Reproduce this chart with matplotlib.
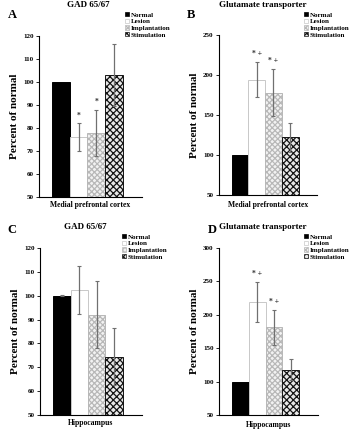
import matplotlib
matplotlib.use("Agg")
import matplotlib.pyplot as plt
from matplotlib.patches import Patch
import numpy as np

plt.rcParams['font.family'] = ['Liberation Serif', 'DejaVu Serif']
plt.rcParams['font.weight'] = 'bold'
plt.rcParams['hatch.linewidth'] = 0.9

groups = ['Normal', 'Lesion', 'Implantation', 'Stimulation']

gad_mpfc = [100, 76, 78, 103]
gad_mpfc_err = [0, 6, 10, 13.5]
gad_mpfc_sig = ['', '*', '*', '']

glu_mpfc = [100, 194, 178, 122]
glu_mpfc_err = [0, 22, 29, 18]
glu_mpfc_sig = ['', '* +', '* +', '']

gad_hip = [100, 102.5, 92, 74.5]
gad_hip_err = [0.3, 10, 14, 12]
gad_hip_sig = ['', '', '', '']

glu_hip = [100, 219, 181, 118]
glu_hip_err = [0, 30, 26, 16]
glu_hip_sig = ['', '* +', '* +', '']

styles = [
    dict(facecolor='black', edgecolor='black', hatch=None),
    dict(facecolor='white', edgecolor='#c8c8c8', hatch=None),
    dict(facecolor='#f2f2f2', edgecolor='#b8b8b8', hatch='xxxxxx'),
    dict(facecolor='#e8e8e8', edgecolor='#151515', hatch='xxxxx'),
]

W, H = 352, 430
fig = plt.figure(figsize=(W / 100, H / 100), dpi=100)


def rect(l, t, r, b):
    return [l / W, 1 - b / H, (r - l) / W, (b - t) / H]


panels = [
    dict(pos=rect(39, 36, 142, 197), vals=gad_mpfc, err=gad_mpfc_err, sig=gad_mpfc_sig,
         ylim=(50, 120), step=10, title='GAD 65/67', tx=88, ty=5, letter='A', lx=12, ly=15,
         xlabel='Medial prefrontal cortex', xly=205, leg=(125, 12)),
    dict(pos=rect(219, 35, 317, 195), vals=glu_mpfc, err=glu_mpfc_err, sig=glu_mpfc_sig,
         ylim=(50, 250), step=50, title='Glutamate transporter', tx=263, ty=5, letter='B', lx=191, ly=15,
         xlabel='Medial prefrontal cortex', xly=205, leg=(304, 12)),
    dict(pos=rect(40, 248, 142, 415), vals=gad_hip, err=gad_hip_err, sig=gad_hip_sig,
         ylim=(50, 120), step=10, title='GAD 65/67', tx=85, ty=227, letter='C', lx=12, ly=230,
         xlabel='Hippocampus', xly=423, leg=(122, 234)),
    dict(pos=rect(219, 248, 318, 415), vals=glu_hip, err=glu_hip_err, sig=glu_hip_sig,
         ylim=(50, 300), step=50, title='Glutamate transporter', tx=263, ty=227, letter='D', lx=212, ly=230,
         xlabel='Hippocampus', xly=425, leg=(304, 234)),
]

for p in panels:
    ax = fig.add_axes(p['pos'])
    for i, (v, e, s) in enumerate(zip(p['vals'], p['err'], styles)):
        ax.bar(i, v - p['ylim'][0], bottom=p['ylim'][0], width=1.0,
               facecolor=s['facecolor'], edgecolor=s['edgecolor'], hatch=s['hatch'],
               linewidth=0.7, zorder=2)
        if e > 0:
            ax.errorbar(i, v, yerr=e, fmt='none', ecolor='#707070', elinewidth=0.9,
                        capsize=1.5, capthick=0.8, zorder=3)
    span = p['ylim'][1] - p['ylim'][0]
    for i, lab in enumerate(p['sig']):
        if lab:
            ax.text(i, p['vals'][i] + p['err'][i] + span * 0.025, lab, ha='center', va='bottom',
                    fontsize=5.5, color='#333333')
    ax.set_xlim(-1.25, 4.6)
    ax.set_ylim(*p['ylim'])
    ax.set_yticks(np.arange(p['ylim'][0], p['ylim'][1] + 0.1, p['step']))
    ax.tick_params(axis='y', labelsize=5, length=2, width=0.6, pad=2)
    ax.tick_params(axis='x', length=0, labelbottom=False)
    for sp in ['top', 'right']:
        ax.spines[sp].set_visible(False)
    for sp in ['left', 'bottom']:
        ax.spines[sp].set_linewidth(0.8)
    ax.set_ylabel('Percent of normal', fontsize=8, fontweight='bold', labelpad=3)
    fig.text(p['tx'] / W, 1 - p['ty'] / H, p['title'], ha='center', va='center',
             fontsize=6.5, fontweight='bold')
    fig.text(p['lx'] / W, 1 - p['ly'] / H, p['letter'], ha='center', va='center',
             fontsize=9, fontweight='bold')
    fig.text((p['pos'][0] + p['pos'][2] / 2), 1 - p['xly'] / H, p['xlabel'], ha='center',
             va='center', fontsize=5.5, fontweight='bold')
    handles = [Patch(facecolor=s['facecolor'], edgecolor=s['edgecolor'] if i else 'black',
                     hatch=s['hatch'], linewidth=0.5) for i, s in enumerate(styles)]
    fig.legend(handles, groups, loc='upper left',
               bbox_to_anchor=(p['leg'][0] / W, 1 - p['leg'][1] / H),
               frameon=False, fontsize=5, handlelength=0.6, handleheight=0.6,
               handletextpad=0.2, labelspacing=0.15, borderpad=0, borderaxespad=0)

fig.savefig('out.png', dpi=100)
